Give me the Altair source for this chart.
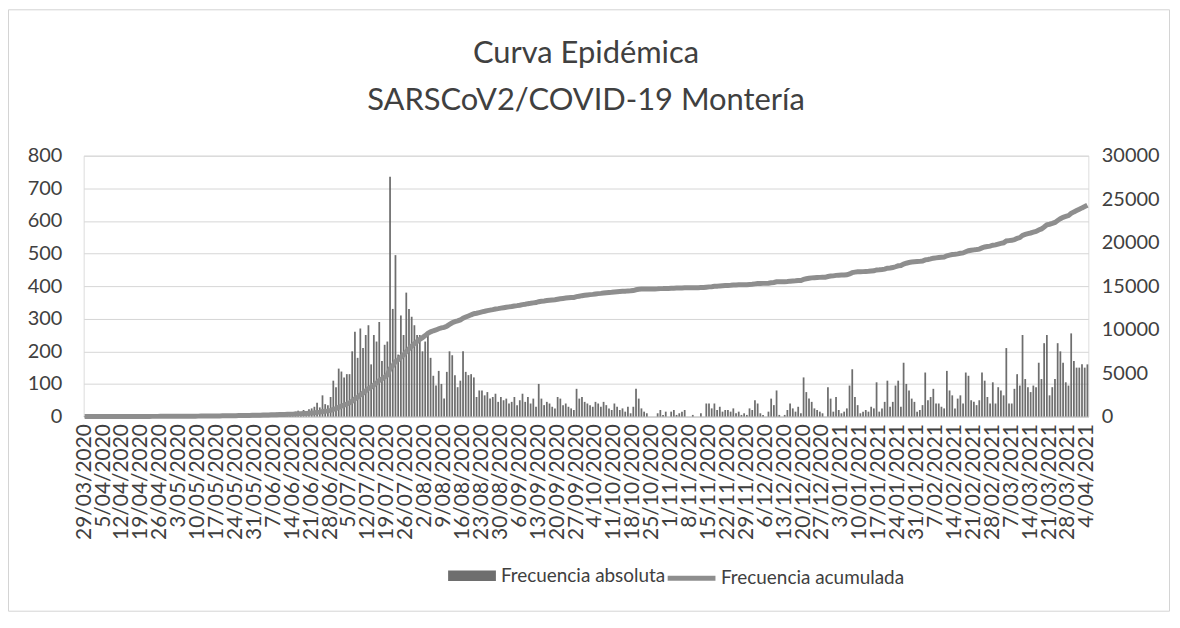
import altair as alt
import pandas as pd

inicio = "2020-03-29"

# Frecuencia absoluta (casos diarios), 29/03/2020 -> 4/04/2021, una fila por semana (dom-sáb)
casos_diarios = [
    1, 0, 0, 2, 0, 1, 0,
    0, 1, 0, 0, 2, 0, 1,
    1, 0, 2, 1, 0, 0, 1,
    0, 2, 1, 0, 3, 1, 0,
    2, 1, 0, 3, 2, 1, 2,
    1, 3, 2, 2, 4, 1, 2,
    3, 2, 4, 3, 2, 5, 3,
    4, 3, 5, 6, 4, 3, 5,
    5, 6, 4, 7, 8, 5, 6,
    7, 8, 6, 9, 10, 8, 7,
    9, 12, 10, 8, 13, 11, 10,
    12, 15, 18, 14, 20, 17, 22,
    25, 30, 42, 28, 65, 38, 35,
    60, 110, 90, 147, 138, 120, 130,
    130, 200, 260, 180, 270, 210, 250,
    280, 160, 250, 230, 290, 170, 220,
    230, 735, 330, 495, 190, 310, 250,
    380, 330, 306, 280, 250, 250, 200,
    230, 250, 180, 125, 95, 140, 100,
    55, 137, 200, 188, 127, 90, 110,
    200, 137, 127, 130, 120, 60, 80,
    80, 65, 75, 55, 60, 70, 45,
    60, 50, 55, 40, 45, 60, 35,
    50, 70, 45, 60, 40, 55, 30,
    100, 55, 35, 45, 40, 30, 25,
    60, 55, 35, 40, 30, 25, 20,
    85, 55, 60, 45, 40, 35, 30,
    45, 40, 30, 45, 35, 25, 20,
    40, 30, 20, 25, 15, 30, 10,
    30, 85, 55, 25, 15, 10, 0,
    0, 0, 10, 20, 5, 15, 0,
    15, 20, 5, 10, 15, 20, 0,
    0, 5, 0, 0, 10, 0, 40,
    40, 25, 40, 20, 30, 15, 20,
    20, 15, 25, 10, 15, 5, 10,
    5, 25, 20, 50, 40, 10, 5,
    0, 15, 55, 35, 80, 5, 0,
    5, 20, 40, 25, 15, 30, 10,
    120, 75, 55, 45, 25, 20, 15,
    10, 0, 90, 55, 15, 60, 20,
    10, 15, 25, 95, 145, 60, 35,
    10, 15, 20, 15, 30, 25, 105,
    15, 25, 45, 110, 30, 45, 95,
    110, 30, 165, 100, 80, 55, 45,
    15, 20, 35, 135, 50, 60, 85,
    40, 40, 30, 25, 140, 80, 65,
    25, 55, 65, 40, 135, 125, 50,
    45, 35, 50, 135, 110, 60, 40,
    105, 40, 90, 80, 65, 210, 40,
    40, 85, 130, 95, 250, 115, 90,
    75, 95, 90, 165, 115, 225, 250,
    65, 90, 115, 225, 200, 165, 105,
    95, 255, 170, 150, 150, 160, 150,
    160,
]

fechas = pd.date_range(inicio, periods=len(casos_diarios), freq="D")
etiquetas = [f"{d.day}/{d.month:02d}/{d.year}" for d in fechas]
posiciones_semanales = list(range(0, len(casos_diarios), 7))
etiquetas_semanales = [etiquetas[i] for i in posiciones_semanales]

ticks_izq = list(range(0, 801, 100))
ticks_der = list(range(0, 30001, 5000))

df = pd.DataFrame({"orden": range(len(casos_diarios)), "fecha": etiquetas, "casos": casos_diarios})

FONT = "Lato"
TXT = "#404040"

mapa = "{" + ",".join(f"'{i}':'{t}'" for i, t in zip(posiciones_semanales, etiquetas_semanales)) + "}"

x_enc = alt.X(
    "orden:O",
    scale=alt.Scale(paddingInner=0.35, paddingOuter=0.03),
    axis=alt.Axis(
        values=posiciones_semanales,
        labelExpr=f"{mapa}[datum.value + '']",
        labelAngle=-90,
        labelFontSize=21,
        labelFont=FONT,
        labelColor=TXT,
        labelPadding=7,
        labelBound=False,
        labelFlush=False,
        ticks=False,
        domain=True,
        domainColor="#c8c8c8",
        title=None,
        labelOverlap=False,
    ),
)

base = alt.Chart(df)

borde = alt.Chart(pd.DataFrame({"k": [0]})).mark_rect(
    fillOpacity=0, stroke="#d4d4d4", strokeWidth=1
).encode(
    x=alt.value(-75.5), x2=alt.value(1090.5), y=alt.value(-146.5), y2=alt.value(457.5)
)

barras = base.transform_calculate(serie_a="'Frecuencia absoluta'").mark_bar(opacity=0.9).encode(
    x=x_enc,
    y=alt.Y(
        "casos:Q",
        scale=alt.Scale(domain=[0, 800], nice=False),
        axis=alt.Axis(
            values=ticks_izq,
            orient="left",
            title=None,
            labelFontSize=20,
            labelFont=FONT,
            labelColor=TXT,
            labelPadding=22,
            ticks=False,
            domain=False,
            grid=True,
            gridColor="#d6d6d6",
            gridWidth=1,
        ),
    ),
    fill=alt.Fill(
        "serie_a:N",
        scale=alt.Scale(domain=["Frecuencia absoluta"], range=["#5e5e5e"]),
        legend=alt.Legend(
            title=None,
            orient="none",
            legendX=366,
            legendY=398,
            symbolType="M-1,-0.22H1V0.22H-1Z",
            symbolSize=2304,
            symbolStrokeWidth=0,
            labelFontSize=19,
            labelFont=FONT,
            labelColor=TXT,
            labelOffset=5,
            labelLimit=0,
            padding=0,
        ),
    ),
)

linea = base.transform_window(
    acumulado="sum(casos)", sort=[alt.SortField("orden")], frame=[None, 0]
).transform_calculate(serie_b="'Frecuencia acumulada'").mark_line(strokeWidth=5, strokeCap="butt").encode(
    x=x_enc,
    y=alt.Y(
        "acumulado:Q",
        scale=alt.Scale(domain=[0, 30000], nice=False),
        axis=alt.Axis(
            values=ticks_der,
            orient="right",
            format="d",
            title=None,
            labelFontSize=20,
            labelFont=FONT,
            labelColor=TXT,
            labelPadding=13,
            ticks=False,
            domain=False,
            grid=False,
        ),
    ),
    stroke=alt.Stroke(
        "serie_b:N",
        scale=alt.Scale(domain=["Frecuencia acumulada"], range=["#8e8e8e"]),
        legend=alt.Legend(
            title=None,
            orient="none",
            legendX=584,
            legendY=398,
            symbolType="M-1,0H1",
            symbolSize=2304,
            symbolStrokeWidth=5,
            labelFontSize=19,
            labelFont=FONT,
            labelColor=TXT,
            labelOffset=3,
            labelLimit=0,
            padding=0,
        ),
    ),
)

chart = (
    alt.layer(borde, barras, linea)
    .resolve_scale(y="independent", fill="independent", stroke="independent")
    .properties(
        width=1009,
        height=262,
        autosize=alt.AutoSizeParams(type="none"),
        padding={"left": 76, "top": 147, "right": 84, "bottom": 197},
        title=alt.TitleParams(
            text=["Curva Epidémica", "SARSCoV2/COVID-19 Montería"],
            fontSize=31,
            font=FONT,
            fontWeight="normal",
            color=TXT,
            anchor="middle",
            lineHeight=47,
            offset=-108,
        ),
    )
    .configure_view(stroke=None)
    .configure(background="white")
)

chart.save("out.html", embed_options={"renderer": "svg", "actions": False})
